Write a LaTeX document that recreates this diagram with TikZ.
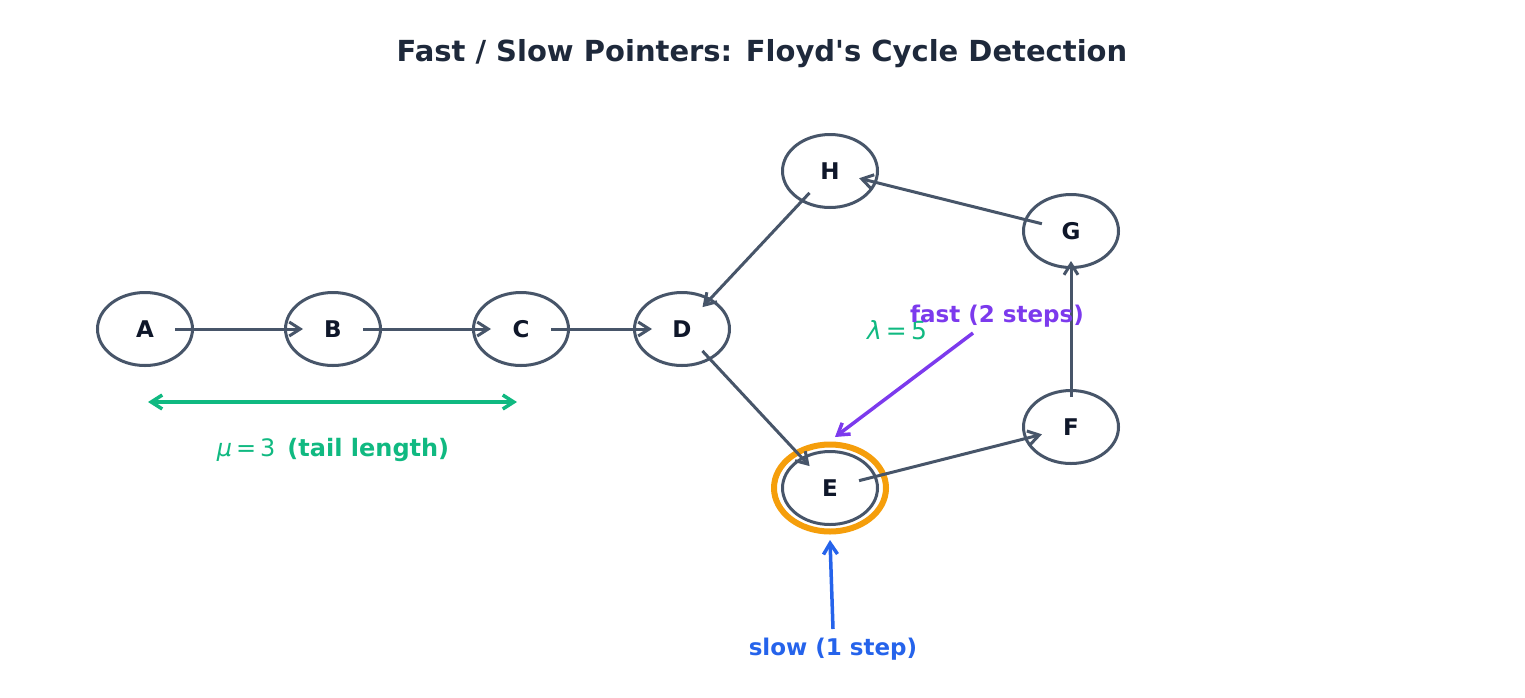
\documentclass[tikz,border=0pt]{standalone}
\usepackage{fontspec}
\setmainfont{DejaVu Sans}
\usetikzlibrary{shapes.geometric,arrows.meta}
\definecolor{edgec}{HTML}{475569}
\definecolor{titlec}{HTML}{1E293B}
\definecolor{nodetext}{HTML}{0F172A}
\definecolor{ringc}{HTML}{F59E0B}
\definecolor{greenc}{HTML}{10B981}
\definecolor{purplec}{HTML}{7C3AED}
\definecolor{bluec}{HTML}{2563EB}
\tikzset{
  llnode/.style={ellipse, draw=edgec, line width=3pt, fill=white,
    minimum width=95pt, minimum height=73pt, inner sep=0pt,
    font=\bfseries\fontsize{23}{27}\selectfont, text=nodetext},
  tipstyle/.style={-{Straight Barb[length=11pt,width=14pt]}},
  edge/.style={tipstyle, draw=edgec, line width=3pt,
    shorten <=30pt, shorten >=30pt},
  note/.style={line width=3.5pt, tipstyle},
  lbl/.style={font=\bfseries\fontsize{23}{27}\selectfont},
}
\begin{document}
\begin{tikzpicture}[x=1pt,y=-1pt]
\useasboundingbox (0,0) rectangle (1525,697);
\node[font=\bfseries\fontsize{29}{34}\selectfont, text=titlec] (title) at (762,54)
  {Fast / Slow Pointers: Floyd\textquotesingle s Cycle Detection};
% ring around E
\draw[ringc, line width=6pt] (830,488) ellipse [x radius=56, y radius=43.5];
% nodes
\node[llnode] (A) at (145,329) {A};
\node[llnode] (B) at (333,329) {B};
\node[llnode] (C) at (521,329) {C};
\node[llnode] (D) at (682,329) {D};
\node[llnode] (H) at (830,171) {H};
\node[llnode] (G) at (1071,231) {G};
\node[llnode] (F) at (1071,427) {F};
\node[llnode] (E) at (830,488) {E};
% edges
\draw[edge] (A.center) -- (B.center);
\draw[edge] (B.center) -- (C.center);
\draw[edge] (C.center) -- (D.center);
\draw[edge] (D.center) -- (E.center);
\draw[edge] (E.center) -- (F.center);
\draw[edge] (F.center) -- (G.center);
\draw[edge] (G.center) -- (H.center);
\draw[edge] (H.center) -- (D.center);
% tail length
\coordinate (mu1) at (148,402);
\coordinate (mu2) at (517,402);
\draw[greenc, line width=3.5pt, {Straight Barb[length=11pt,width=14pt]}-{Straight Barb[length=11pt,width=14pt]}] (mu1) -- (mu2);
\node[text=greenc, font=\fontsize{24}{28}\selectfont] (mulabel) at (333,450)
  {\textit{μ}\,=\,3\enspace\textbf{(tail length)}};
\node[text=greenc, font=\fontsize{25}{29}\selectfont] (lambda) at (897,330)
  {\textit{λ}\,=\,5};
% fast pointer
\node[lbl, text=purplec] (fast) at (997,316) {fast (2 steps)};
\coordinate (f1) at (973,333);
\coordinate (f2) at (835,437);
\draw[note, purplec] (f1) -- (f2);
% slow pointer
\node[lbl, text=bluec] (slow) at (833,649) {slow (1 step)};
\coordinate (s1) at (833,629);
\coordinate (s2) at (830,540);
\draw[note, bluec] (s1) -- (s2);
\end{tikzpicture}
\end{document}
